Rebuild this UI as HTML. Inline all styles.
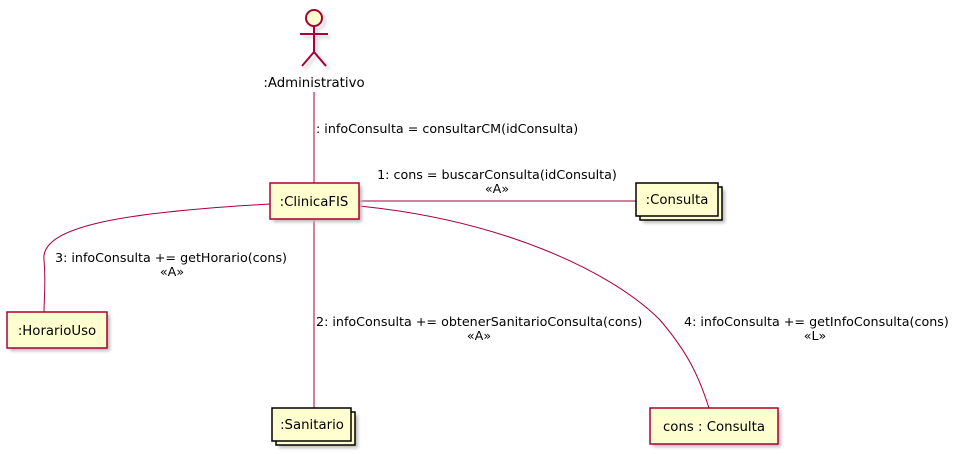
<!DOCTYPE html>
<html><head><meta charset="utf-8"><style>
html,body{margin:0;padding:0;background:#fff;}
svg{display:block;}
text{font-family:"DejaVu Sans","Liberation Sans",sans-serif;font-size:12.7px;fill:#000;}
.n{font-size:13.3px;}
</style></head><body>
<svg width="958" height="454" viewBox="0 0 958 454" xmlns="http://www.w3.org/2000/svg">
<defs><filter id="s" x="-20%" y="-20%" width="150%" height="160%"><feGaussianBlur stdDeviation="1.5"/></filter></defs>
<g stroke="#ccc" fill="none" stroke-width="2" filter="url(#s)" transform="translate(3,3)">
<circle cx="314" cy="18" r="8"/><path d="M314 26V52M300 34H328M314 52L302 66M314 52L326 66"/>
</g>
<g stroke="#A80036" stroke-width="2" fill="none">
<circle cx="314" cy="18" r="8" fill="#FEFECE"/><path d="M314 26V52M300 34H328M314 52L302 66M314 52L326 66"/>
</g>
<text x="314" y="87" text-anchor="middle" class="n">:Administrativo</text>
<g stroke="#A80036" stroke-width="1" fill="none">
<path d="M314 92V183"/>
<path d="M359 201H636"/>
<path d="M314 219V408"/>
<path d="M270 204C130 212 40 225 44 260C46 285 44 300 44 312"/>
<path d="M359 206C500 220 610 270 660 320C690 355 700 380 709 408"/>
</g>
<g fill="#bbb" filter="url(#s)">
<rect x="273" y="186" width="89" height="36"/>
<rect x="10" y="315" width="100" height="36"/>
<rect x="653" y="411" width="128" height="36"/>
<rect x="279" y="415" width="79" height="33"/>
<rect x="643" y="190" width="82" height="33"/>
</g>
<g stroke-width="1.5" fill="#FEFECE">
<rect x="270" y="183" width="89" height="36" stroke="#A80036"/>
<rect x="7" y="312" width="100" height="36" stroke="#A80036"/>
<rect x="650" y="408" width="128" height="36" stroke="#A80036"/>
<rect x="276" y="412" width="79" height="33" stroke="#000"/>
<rect x="272" y="408" width="79" height="33" stroke="#000"/>
<rect x="640" y="187" width="82" height="33" stroke="#000"/>
<rect x="636" y="183" width="82" height="33" stroke="#000"/>
</g>
<text x="314" y="206" text-anchor="middle" class="n">:ClinicaFIS</text>
<text x="57" y="335" text-anchor="middle" class="n">:HorarioUso</text>
<text x="714" y="431" text-anchor="middle" class="n">cons : Consulta</text>
<text x="312" y="429" text-anchor="middle" class="n">:Sanitario</text>
<text x="677" y="204" text-anchor="middle" class="n">:Consulta</text>
<text x="316" y="133">: infoConsulta = consultarCM(idConsulta)</text>
<text x="497" y="179" text-anchor="middle">1: cons = buscarConsulta(idConsulta)</text>
<text x="497" y="193" text-anchor="middle">«A»</text>
<text x="55" y="262">3: infoConsulta += getHorario(cons)</text>
<text x="172" y="276" text-anchor="middle">«A»</text>
<text x="316" y="326">2: infoConsulta += obtenerSanitarioConsulta(cons)</text>
<text x="479" y="340" text-anchor="middle">«A»</text>
<text x="684" y="326">4: infoConsulta += getInfoConsulta(cons)</text>
<text x="815" y="340" text-anchor="middle">«L»</text>
</svg>
</body></html>
